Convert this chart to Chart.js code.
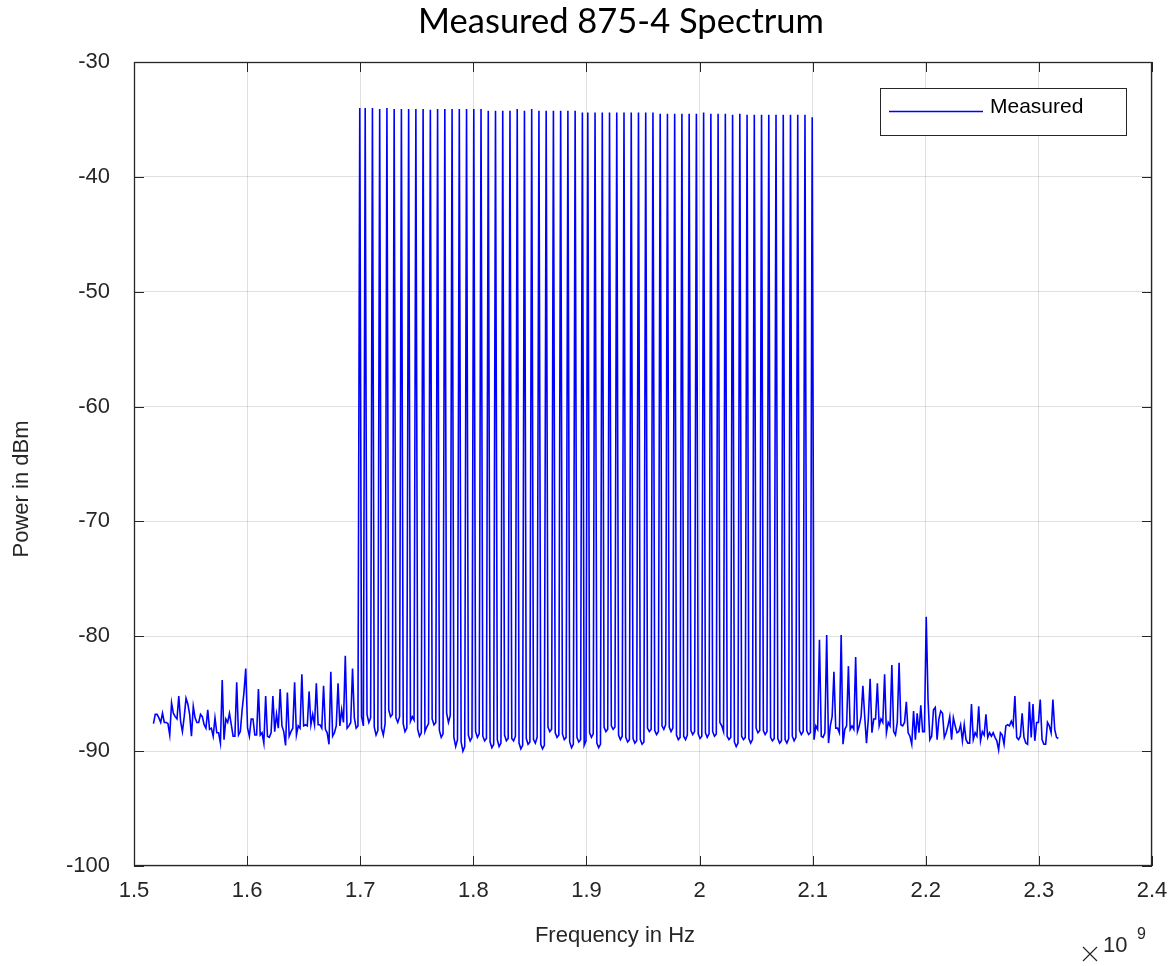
<!DOCTYPE html>
<html>
<head>
<meta charset="utf-8">
<title>Measured 875-4 Spectrum</title>
<script src="https://cdn.jsdelivr.net/npm/chart.js@4.4.1/dist/chart.umd.min.js"></script>
<style>
    html, body { margin: 0; padding: 0; background: #fff; }
    #wrap { width: 1172px; height: 966px; }
</style>
</head>
<body>
<div id="wrap"><canvas id="spectrum" width="1172" height="966"></canvas></div>
<script>
// Sweep grid of the analyzer trace (501 points, 1.6 MHz apart)
const FREQ_START_HZ = 1.5172e9;
const FREQ_STEP_HZ = 1.6e6;

// Noise floor below the comb (samples 0..113)
const lowFloorDbm = [
    -87.6, -86.8, -86.8, -87.1, -87.5, -86.7, -87.5, -87.5, -87.6, -88.6,
    -85.8, -86.7, -87.0, -87.2, -85.2, -87.4, -88.3, -87.0, -85.4, -85.9,
    -86.8, -88.7, -86.1, -87.1, -87.5, -87.5, -86.8, -87.0, -87.7, -88.0,
    -86.4, -88.1, -88.0, -88.7, -87.1, -88.4, -88.4, -89.3, -83.8, -89.0,
    -87.2, -87.5, -86.7, -87.7, -88.7, -88.7, -84.0, -88.6, -88.3, -86.4,
    -84.9, -82.8, -88.0, -88.7, -87.2, -87.2, -88.6, -88.6, -84.6, -88.6,
    -88.4, -89.3, -85.2, -88.7, -88.8, -88.4, -85.2, -88.3, -86.8, -88.0,
    -84.6, -87.8, -88.3, -89.5, -84.9, -88.7, -88.3, -88.0, -84.0, -88.6,
    -87.8, -88.0, -83.3, -87.8, -87.7, -87.8, -84.8, -87.7, -86.8, -87.7,
    -84.1, -87.7, -87.7, -88.0, -84.3, -88.1, -88.4, -89.4, -83.1, -88.7,
    -88.4, -87.8, -84.1, -87.8, -86.4, -87.5, -81.7, -88.0, -87.8, -87.5,
    -82.8, -87.1, -88.0, -87.8
];

// The 64-tone comb, 1.7 to 2.1 GHz (samples 114..364), one tone per row
const combDbm = [
    -34.0, -87.0, -87.8,
    -34.0, -86.8, -87.5, -87.1,
    -34.0, -87.9, -88.6, -88.2,
    -34.1, -88.0, -88.6, -87.6,
    -34.0, -86.4, -87.0, -86.8,
    -34.1, -87.1, -87.5, -87.0,
    -34.1, -87.6, -88.3, -88.0,
    -34.1, -87.4, -87.0, -87.3,
    -34.1, -88.1, -88.7, -88.4,
    -34.1, -88.3, -87.9, -87.6,
    -34.15, -87.2, -87.7, -87.5,
    -34.1, -88.2, -88.8, -88.5,
    -34.1, -86.7, -87.5, -86.9,
    -34.1, -88.8, -89.6, -89.0,
    -34.1, -89.2, -90.0, -89.6,
    -34.1, -88.6, -89.1, -88.8,
    -34.1, -88.3, -88.8, -88.5,
    -34.1, -88.7, -89.1, -88.9,
    -34.25, -89.2, -89.7, -89.4,
    -34.25, -89.0, -89.6, -89.3,
    -34.25, -88.6, -89.1, -88.9,
    -34.25, -88.9, -89.1, -88.7,
    -34.1, -89.3, -89.8, -89.5,
    -34.25, -88.9, -89.4, -89.2,
    -34.1, -89.0, -89.3, -88.8,
    -34.25, -89.4, -89.8, -89.5,
    -34.25, -87.9, -88.3, -88.1,
    -34.25, -88.4, -88.8, -88.6,
    -34.25, -88.5, -89.0, -88.8,
    -34.25, -89.2, -89.7, -89.4,
    -34.25, -88.8, -89.2, -89.0,
    -34.4, -89.5, -89.1,
    -34.4, -88.4, -88.8, -88.5,
    -34.4, -89.3, -89.7, -89.4,
    -34.4, -87.9, -88.3, -88.1,
    -34.4, -87.8, -88.1, -87.9,
    -34.4, -88.6, -89.0, -88.7,
    -34.4, -88.8, -89.2, -89.0,
    -34.4, -88.9, -89.3, -89.1,
    -34.4, -89.0, -89.4, -89.2,
    -34.4, -88.0, -88.3, -88.1,
    -34.4, -88.2, -88.55, -88.3,
    -34.5, -87.8, -88.1, -87.7,
    -34.5, -87.9, -88.3, -88.0,
    -34.5, -88.6, -89.0, -88.8,
    -34.5, -88.7, -89.0, -88.6,
    -34.5, -88.2, -88.55, -88.3,
    -34.5, -88.5, -88.9, -88.7,
    -34.4, -88.4, -88.8, -88.5,
    -34.5, -88.3, -88.7, -88.5,
    -34.5, -87.5, -87.8, -88.3,
    -34.5, -88.7, -89.0, -88.8,
    -34.6, -89.2, -89.6, -89.3,
    -34.5, -88.7, -89.0, -88.8,
    -34.6, -88.9, -89.3, -89.0,
    -34.6, -88.0, -88.4, -88.2,
    -34.6, -88.2, -88.55, -88.3,
    -34.6, -88.8, -89.1, -88.9,
    -34.6, -88.9, -89.3, -89.1,
    -34.6, -89.0, -89.3, -88.9,
    -34.6, -88.7, -89.1, -88.8,
    -34.6, -88.2, -88.55, -88.3,
    -34.6, -88.2, -88.55, -88.4,
    -34.8
];

// Noise floor above the comb (samples 365..500), with the 2.2 GHz spur
const highFloorDbm = [
    -89.0, -87.8, -88.1, -80.3, -88.7, -88.8, -88.4, -79.9, -89.3, -87.8,
    -87.0, -83.1, -88.0, -88.0, -88.4, -79.9, -89.4, -88.1, -87.8, -82.6,
    -88.1, -87.8, -88.1, -81.8, -88.3, -87.8, -87.0, -84.3, -87.0, -89.3,
    -87.2, -83.7, -88.4, -87.2, -87.2, -84.1, -87.8, -87.2, -87.5, -83.3,
    -88.4, -87.5, -87.8, -82.5, -88.3, -88.6, -87.5, -82.3, -87.7, -87.8,
    -87.5, -85.7, -88.4, -88.7, -89.4, -86.5, -89.0, -86.7, -88.4, -86.0,
    -88.3, -88.3, -78.3, -85.5, -89.0, -88.7, -86.4, -86.2, -89.0, -87.2,
    -86.5, -86.7, -88.8, -88.4, -87.8, -87.0, -89.0, -87.1, -87.8, -88.4,
    -88.3, -87.7, -89.1, -87.7, -89.0, -89.3, -89.3, -85.9, -89.0, -88.4,
    -88.7, -86.1, -89.1, -88.3, -88.6, -86.8, -88.8, -88.4, -88.7, -88.4,
    -88.8, -89.1, -89.9, -88.4, -88.6, -89.4, -87.8, -87.7, -87.8, -87.4,
    -87.8, -85.2, -88.8, -89.0, -88.7, -86.7, -88.8, -89.3, -89.4, -85.7,
    -88.8, -85.9, -89.1, -87.5, -87.5, -85.5, -89.0, -89.4, -89.4, -87.5,
    -87.8, -88.4, -85.5, -88.1, -88.8, -88.9
];

const X_TICKS = [1.5, 1.6, 1.7, 1.8, 1.9, 2.0, 2.1, 2.2, 2.3, 2.4]; // x 10^9 Hz
const Y_TICKS = [-100, -90, -80, -70, -60, -50, -40, -30];

const AXIS_COLOR = '#262626';
const GRID_COLOR = 'rgba(0, 0, 0, 0.12)';
const TRACE_COLOR = '#0000ff';
const TICK_LEN = 10;
const SANS = '"Liberation Sans", Arial, sans-serif';

const powerDbm = lowFloorDbm.concat(combDbm, highFloorDbm);
const points = powerDbm.map((p, i) => ({ x: FREQ_START_HZ + i * FREQ_STEP_HZ, y: p }));

// Box, inward ticks, legend and the loose text (titles, exponent)
const matlabLook = {
    id: 'matlabLook',
    afterDraw(chart) {
        const { ctx, chartArea: a, scales: { x, y } } = chart;
        ctx.save();

        ctx.strokeStyle = AXIS_COLOR;
        ctx.lineWidth = 1;
        ctx.beginPath();
        X_TICKS.forEach(v => {
            const px = Math.round(x.getPixelForValue(v * 1e9)) + 0.5;
            ctx.moveTo(px, a.bottom); ctx.lineTo(px, a.bottom - TICK_LEN);
            ctx.moveTo(px, a.top); ctx.lineTo(px, a.top + TICK_LEN);
        });
        Y_TICKS.forEach(v => {
            const py = Math.round(y.getPixelForValue(v)) + 0.5;
            ctx.moveTo(a.left, py); ctx.lineTo(a.left + TICK_LEN, py);
            ctx.moveTo(a.right, py); ctx.lineTo(a.right - TICK_LEN, py);
        });
        ctx.stroke();
        ctx.lineWidth = 1.3;
        ctx.strokeRect(Math.round(a.left) + 0.5, Math.round(a.top) + 0.5,
            Math.round(a.right - a.left) - 1, Math.round(a.bottom - a.top) - 1);

        // legend
        const ds = chart.data.datasets[0];
        ctx.fillStyle = '#fff';
        ctx.fillRect(880, 88, 246, 47);
        ctx.strokeStyle = AXIS_COLOR;
        ctx.lineWidth = 1;
        ctx.strokeRect(880.5, 88.5, 246, 47);
        ctx.strokeStyle = ds.borderColor;
        ctx.lineWidth = 1.3;
        ctx.beginPath();
        ctx.moveTo(889, 111.5); ctx.lineTo(983, 111.5);
        ctx.stroke();
        ctx.fillStyle = '#000';
        ctx.font = '21px ' + SANS;
        ctx.textAlign = 'left';
        ctx.textBaseline = 'middle';
        ctx.fillText(ds.label, 990, 107);

        // chart title
        ctx.font = '34.5px Lato, "Open Sans", sans-serif';
        ctx.textAlign = 'center';
        ctx.fillText('Measured 875-4 Spectrum', 621, 22);

        // axis titles
        ctx.fillStyle = AXIS_COLOR;
        ctx.font = '22px ' + SANS;
        ctx.fillText('Frequency in Hz', 615, 936);
        ctx.save();
        ctx.translate(22, 489);
        ctx.rotate(-Math.PI / 2);
        ctx.fillText('Power in dBm', 0, 0);
        ctx.restore();

        // exponent "x 10^9"
        ctx.strokeStyle = AXIS_COLOR;
        ctx.lineWidth = 1.2;
        ctx.beginPath();
        ctx.moveTo(1083, 947); ctx.lineTo(1097, 961);
        ctx.moveTo(1097, 947); ctx.lineTo(1083, 961);
        ctx.stroke();
        ctx.textAlign = 'left';
        ctx.textBaseline = 'alphabetic';
        ctx.font = '22px ' + SANS;
        ctx.fillText('10', 1103, 952);
        ctx.font = '16px ' + SANS;
        ctx.fillText('9', 1137, 939);

        ctx.restore();
    }
};

const tickFont = { family: SANS, size: 22 };

new Chart(document.getElementById('spectrum'), {
    type: 'line',
    data: {
        datasets: [{
            label: 'Measured',
            data: points,
            borderColor: TRACE_COLOR,
            borderWidth: 1.6,
            pointRadius: 0,
            tension: 0,
            fill: false
        }]
    },
    options: {
        responsive: false,
        devicePixelRatio: 1,
        animation: false,
        layout: { padding: { top: 62, right: 20, bottom: 0, left: 0 } },
        plugins: {
            legend: { display: false },
            tooltip: { enabled: false }
        },
        scales: {
            x: {
                type: 'linear',
                min: 1.5e9,
                max: 2.4e9,
                afterBuildTicks: s => { s.ticks = X_TICKS.map(v => ({ value: v * 1e9 })); },
                afterFit: s => {
                    s.height = 100;
                    s.paddingLeft = 0;
                    s.paddingRight = 0;
                },
                border: { display: false },
                grid: { color: GRID_COLOR, drawTicks: false },
                ticks: {
                    color: AXIS_COLOR,
                    font: tickFont,
                    padding: 12,
                    maxRotation: 0,
                    autoSkip: false,
                    callback: v => String(+(v / 1e9).toFixed(1))
                }
            },
            y: {
                min: -100,
                max: -30,
                afterBuildTicks: s => { s.ticks = Y_TICKS.map(v => ({ value: v })); },
                afterFit: s => {
                    s.width = 134;
                    s.paddingTop = 0;
                    s.paddingBottom = 0;
                },
                border: { display: false },
                grid: { color: GRID_COLOR, drawTicks: false },
                ticks: {
                    color: AXIS_COLOR,
                    font: tickFont,
                    padding: 24,
                    autoSkip: false
                }
            }
        }
    },
    plugins: [matlabLook]
});
</script>
</body>
</html>
